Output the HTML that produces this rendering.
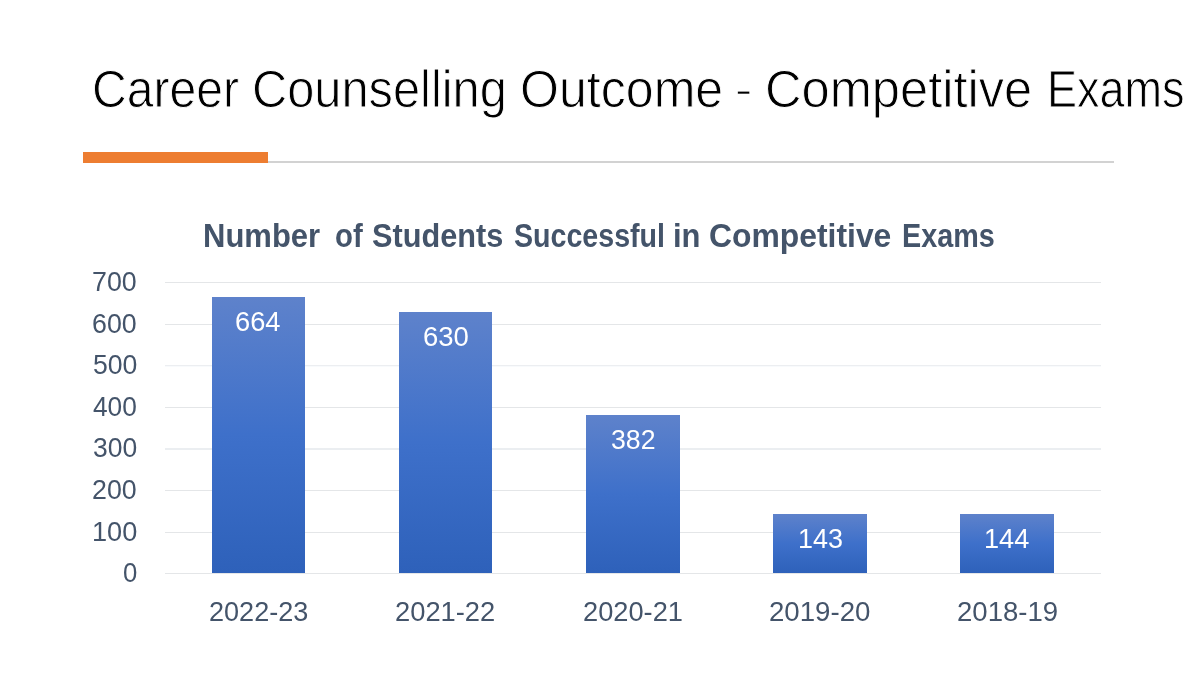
<!DOCTYPE html>
<html lang="en">
<head>
<meta charset="utf-8">
<title>Career Counselling Outcome - Competitive Exams</title>
<style>
html,body{margin:0;padding:0;background:#fff}
body{width:1200px;height:675px;position:relative;overflow:hidden;font-family:"Liberation Sans",sans-serif}
span{position:absolute;display:block;line-height:1;white-space:pre;transform-origin:0 0;font-family:"Liberation Sans",sans-serif}
.t{color:#000;font-weight:400;-webkit-text-stroke:0.9px #fff}
.ct{color:#44546a;font-weight:700}
.ax{color:#44546a;font-weight:400}
.dl{color:#fff;font-weight:400}
.accent{position:absolute;left:83px;top:152px;width:185px;height:11px;background:#ed7d31}
.rule{position:absolute;left:268px;top:161px;width:846px;height:2px;background:#d2d2d2}
.grid{position:absolute;left:165px;width:936px;height:1px;background:#e4e6e8}
.bar{position:absolute;background:linear-gradient(180deg,#5e82cb 0%,#3e70ca 50%,#2e61ba 100%)}
</style>
</head>
<body>
<h1 style="margin:0;font-size:0">
<span class="t" style="left:91.94px;top:63.94px;font-size:51.27px;transform:scaleX(0.9389)">Career</span>
<span class="t" style="left:252.11px;top:63.94px;font-size:51.27px;transform:scaleX(0.9512)">Counselling</span>
<span class="t" style="left:519.55px;top:63.94px;font-size:51.27px;transform:scaleX(0.977)">Outcome</span>
<span class="t" style="left:735.49px;top:70.54px;font-size:51.27px;transform:scale(1.0065,0.72)">-</span>
<span class="t" style="left:765.02px;top:63.94px;font-size:51.27px;transform:scaleX(0.9874)">Competitive</span>
<span class="t" style="left:1047.20px;top:63.94px;font-size:51.27px;transform:scaleX(0.8782)">Exams</span>
</h1>
<div class="accent"></div>
<div class="rule"></div>
<h2 style="margin:0;font-size:0">
<span class="ct" style="left:203.14px;top:219.80px;font-size:32.29px;transform:scaleX(0.9603)">Number</span>
<span class="ct" style="left:334.62px;top:219.80px;font-size:32.29px;transform:scaleX(0.9082)">of</span>
<span class="ct" style="left:372.39px;top:219.80px;font-size:32.29px;transform:scaleX(0.9501)">Students</span>
<span class="ct" style="left:513.93px;top:219.80px;font-size:32.29px;transform:scaleX(0.8858)">Successful</span>
<span class="ct" style="left:673.14px;top:219.80px;font-size:32.29px;transform:scaleX(0.958)">in</span>
<span class="ct" style="left:709.23px;top:219.80px;font-size:32.29px;transform:scaleX(0.9869)">Competitive</span>
<span class="ct" style="left:902.02px;top:219.80px;font-size:32.29px;transform:scaleX(0.891)">Exams</span>
</h2>
<div class="grid" style="top:573px"></div>
<div class="grid" style="top:532px"></div>
<div class="grid" style="top:490px"></div>
<div class="grid" style="top:448px;height:2px;background:#ebeef1"></div>
<div class="grid" style="top:407px"></div>
<div class="grid" style="top:365px;height:2px;background:linear-gradient(#eceef1 50%,#f8fafc 50%)"></div>
<div class="grid" style="top:324px"></div>
<div class="grid" style="top:282px"></div>
<div class="bar" style="left:212px;width:93px;top:297px;height:276px"></div>
<div class="bar" style="left:399px;width:93px;top:312px;height:261px"></div>
<div class="bar" style="left:586px;width:94px;top:415px;height:158px"></div>
<div class="bar" style="left:773px;width:94px;top:514px;height:59px"></div>
<div class="bar" style="left:960px;width:94px;top:514px;height:59px"></div>
<span class="ax" style="left:122.63px;top:559.10px;font-size:27.32px;transform:scaleX(0.9411)">0</span>
<span class="ax" style="left:91.70px;top:517.53px;font-size:27.32px;transform:scaleX(0.9932)">100</span>
<span class="ax" style="left:92.26px;top:475.96px;font-size:27.32px;transform:scaleX(0.9807)">200</span>
<span class="ax" style="left:92.81px;top:434.39px;font-size:27.32px;transform:scaleX(0.9685)">300</span>
<span class="ax" style="left:93.07px;top:392.82px;font-size:27.32px;transform:scaleX(0.9624)">400</span>
<span class="ax" style="left:92.53px;top:351.25px;font-size:27.32px;transform:scaleX(0.9745)">500</span>
<span class="ax" style="left:92.26px;top:309.68px;font-size:27.32px;transform:scaleX(0.9807)">600</span>
<span class="ax" style="left:92.26px;top:268.11px;font-size:27.32px;transform:scaleX(0.9807)">700</span>
<span class="ax" style="left:208.65px;top:598.12px;font-size:27.61px;transform:scaleX(0.9805)">2022-23</span>
<span class="ax" style="left:395.13px;top:598.12px;font-size:27.61px;transform:scaleX(0.9893)">2021-22</span>
<span class="ax" style="left:582.64px;top:598.12px;font-size:27.61px;transform:scaleX(0.9863)">2020-21</span>
<span class="ax" style="left:769.12px;top:598.12px;font-size:27.61px;transform:scaleX(1.0007)">2019-20</span>
<span class="ax" style="left:956.62px;top:598.12px;font-size:27.61px;transform:scaleX(0.9974)">2018-19</span>
<span class="dl" style="left:235.13px;top:308.23px;font-size:27.46px;transform:scaleX(0.9947)">664</span>
<span class="dl" style="left:422.63px;top:323.23px;font-size:27.46px;transform:scaleX(1.001)">630</span>
<span class="dl" style="left:610.70px;top:426.23px;font-size:27.46px;transform:scaleX(0.9718)">382</span>
<span class="dl" style="left:797.61px;top:525.23px;font-size:27.46px;transform:scaleX(0.9812)">143</span>
<span class="dl" style="left:983.90px;top:525.23px;font-size:27.46px;transform:scaleX(0.9888)">144</span>
</body>
</html>
